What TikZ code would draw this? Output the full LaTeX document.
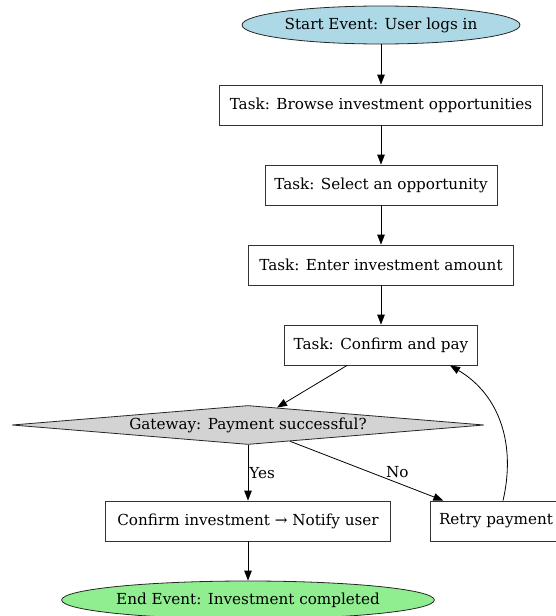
\documentclass[tikz,border=0pt]{standalone}
\usepackage{fontspec}
\setmainfont{DejaVu Serif}
\usetikzlibrary{shapes.geometric,arrows.meta}
\begin{document}
\begin{tikzpicture}[x=1pt,y=-1pt,
  every node/.style={font=\fontsize{15.2}{17}\selectfont},
  taskbox/.style={draw=black!80,line width=0.8pt,rectangle,minimum height=40pt,inner sep=0pt},
  evt/.style={draw=black!85,line width=0.8pt,ellipse,inner sep=0pt},
  gate/.style={draw=black!85,line width=0.8pt,diamond,shape aspect=12,inner sep=0pt,fill=gwgray,minimum width=472pt,minimum height=39pt},
  arr/.style={line width=0.8pt,-{Triangle[length=10pt,width=7.5pt]}},
  lbl/.style={inner sep=0pt}]
\definecolor{startblue}{HTML}{ADD8E6}
\definecolor{endgreen}{HTML}{90EE90}
\definecolor{gwgray}{HTML}{D3D3D3}
\useasboundingbox (0,0) rectangle (556,616);
\node[evt,fill=startblue,minimum width=278pt,minimum height=38pt] (start) at (381,25) {Start Event: User logs in};
\node[taskbox,minimum width=323pt] (browse) at (381,105) {Task: Browse investment opportunities};
\node[taskbox,minimum width=232pt] (select) at (381,185) {Task: Select an opportunity};
\node[taskbox,minimum width=265pt] (enter) at (381,265) {Task: Enter investment amount};
\node[taskbox,minimum width=193pt] (pay) at (381,345) {Task: Confirm and pay};
\node[gate] (gw) at (248,425) {Gateway: Payment successful?};
\node[taskbox,minimum width=285pt] (confirm) at (248,521) {Confirm investment → Notify user};
\node[taskbox,minimum width=132pt] (retry) at (496,521) {Retry payment};
\node[evt,fill=endgreen,minimum width=370pt,minimum height=38pt] (end) at (248,600) {End Event: Investment completed};
\draw[arr] (start) -- (browse);
\draw[arr] (browse) -- (select);
\draw[arr] (select) -- (enter);
\draw[arr] (enter) -- (pay);
\draw[arr] (pay) -- (gw);
\draw[arr] (gw) -- (confirm) node[lbl,pos=0.5,right=1pt] {Yes};
\draw[arr] (gw) -- (retry) node[lbl,pos=0.7,above=5pt] {No};
\draw[arr] ([xshift=7pt]retry.north) .. controls (516,445) and (500,395) .. ([xshift=69pt]pay.south);
\draw[arr] (confirm) -- (end);
\end{tikzpicture}
\end{document}
